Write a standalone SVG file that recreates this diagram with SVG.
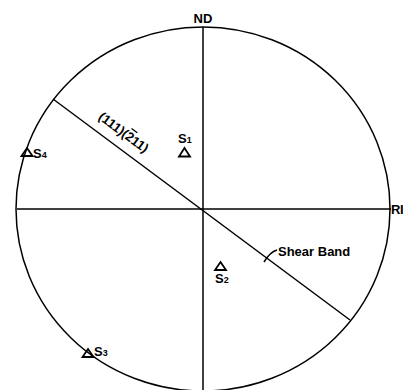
<svg xmlns="http://www.w3.org/2000/svg" width="403" height="390" viewBox="0 0 403 390">
<style>
.ln{stroke:#000;fill:none;stroke-width:1.5}
.t{font-family:"Liberation Sans",Arial,sans-serif;font-weight:bold;font-size:13px;fill:#000}
.tri{fill:none;stroke:#000;stroke-width:1.8;stroke-linejoin:miter}
</style>
<rect width="403" height="390" fill="#fff"/>
<g id="connectors">
<ellipse class="ln" cx="203" cy="209" rx="187" ry="182"/>
<line class="ln" x1="203" y1="27" x2="203" y2="390"/>
<line class="ln" x1="17" y1="209" x2="391" y2="209"/>
<line class="ln" x1="53" y1="99" x2="350" y2="320"/>
<path class="ln" d="M277,250 Q270,252 264,262" stroke-width="1.2"/>
</g>
<g id="ND"><text class="t" x="203" y="23" text-anchor="middle">ND</text></g>
<g id="RI"><text class="t" x="391" y="214" font-size="11.5" letter-spacing="-0.5">RI</text></g>
<g id="plane"><text class="t" x="0" y="0" font-size="12.5" transform="translate(121,136) rotate(36.6)" text-anchor="middle">(111)(<tspan text-decoration="overline">2</tspan>11)</text></g>
<g id="shear"><text class="t" x="278" y="256" font-size="13.5">Shear Band</text></g>
<g id="S1">
<text class="t" x="178" y="143">S<tspan font-size="9">1</tspan></text>
<path class="tri" d="M184.5,148 L190,156.5 L179,156.5 Z"/>
</g>
<g id="S2">
<path class="tri" d="M220.5,262 L226,270 L215,270 Z"/>
<text class="t" x="215" y="283">S<tspan font-size="9">2</tspan></text>
</g>
<g id="S3">
<path class="tri" d="M88,349 L93.5,357 L82.5,357 Z"/>
<text class="t" x="94" y="356">S<tspan font-size="9">3</tspan></text>
</g>
<g id="S4">
<path class="tri" d="M27,148 L32.5,156 L21.5,156 Z"/>
<text class="t" x="33" y="158">S<tspan font-size="9">4</tspan></text>
</g>
</svg>
